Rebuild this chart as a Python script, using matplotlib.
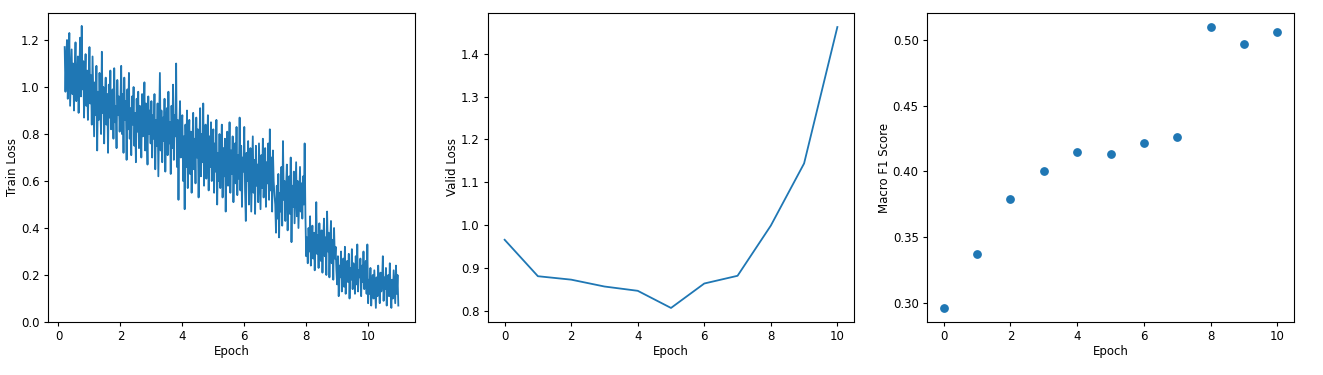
import numpy as np
import matplotlib
matplotlib.use('Agg')
import matplotlib.pyplot as plt

# train loss, one block per epoch (logging starts at epoch 0.2)
train_loss = [
    # 0.2 - 1
    1.17, 0.98, 1.12, 1.20, 0.95, 1.08, 1.23, 0.92, 1.04, 1.16, 0.97, 1.10, 0.90, 1.06, 1.19, 0.94,
    1.02, 1.13, 0.89, 1.08, 1.21, 0.96, 1.26, 0.99, 1.11, 0.87, 1.03, 1.14, 0.92, 1.07, 0.86, 1.00,
    # 1 - 2
    1.17, 0.93, 1.05, 0.84, 1.13, 0.96, 0.79, 1.02, 0.88, 1.09, 0.73, 0.98, 0.86, 1.06, 0.91, 0.80, 1.15, 0.89, 1.00, 0.76,
    0.95, 1.04, 0.84, 0.97, 0.72, 1.01, 0.87, 1.07, 0.82, 0.94, 0.99, 0.78, 1.08, 0.85, 0.92, 0.74, 1.03, 0.88, 0.96, 0.81,
    # 2 - 3
    0.93, 1.09, 0.80, 0.97, 0.72, 1.04, 0.86, 0.94, 0.69, 0.99, 0.82, 1.06, 0.78, 0.91, 0.71, 0.96, 0.84, 1.00, 0.75, 0.89,
    0.68, 0.95, 0.81, 0.98, 0.74, 0.92, 0.85, 0.70, 0.97, 0.79, 0.88, 1.02, 0.73, 0.93, 0.83, 0.67, 0.96, 0.80, 0.90, 0.76,
    # 3 - 4
    0.94, 0.70, 0.88, 0.78, 0.97, 0.65, 0.86, 0.75, 0.93, 0.62, 0.84, 1.06, 0.73, 0.90, 0.68, 0.87, 0.77, 0.95, 0.64, 0.83,
    0.91, 0.71, 0.98, 0.76, 0.85, 0.63, 0.92, 0.74, 1.01, 0.69, 0.88, 0.79, 1.10, 0.66, 0.86, 0.52, 0.81, 0.94, 0.70, 0.84,
    # 4 - 5
    0.88, 0.60, 0.79, 0.48, 0.84, 0.66, 0.90, 0.57, 0.76, 0.86, 0.63, 0.81, 0.55, 0.74, 0.89, 0.65, 0.78, 0.59, 0.87, 0.70,
    0.82, 0.53, 0.75, 0.91, 0.62, 0.80, 0.68, 0.93, 0.58, 0.77, 0.84, 0.61, 0.72, 0.88, 0.56, 0.79, 0.66, 0.85, 0.60, 0.74,
    # 5 - 6
    0.82, 0.55, 0.76, 0.64, 0.86, 0.50, 0.72, 0.60, 0.80, 0.57, 0.69, 0.84, 0.53, 0.74, 0.62, 0.78, 0.47, 0.70, 0.81, 0.58,
    0.67, 0.85, 0.55, 0.73, 0.63, 0.79, 0.51, 0.68, 0.76, 0.59, 0.83, 0.54, 0.71, 0.61, 0.87, 0.56, 0.75, 0.49, 0.70, 0.64,
    # 6 - 7
    0.83, 0.56, 0.43, 0.72, 0.60, 0.77, 0.50, 0.66, 0.74, 0.47, 0.63, 0.79, 0.55, 0.69, 0.46, 0.75, 0.58, 0.67, 0.51, 0.76,
    0.62, 0.48, 0.71, 0.57, 0.78, 0.53, 0.65, 0.74, 0.49, 0.68, 0.59, 0.76, 0.52, 0.82, 0.56, 0.70, 0.47, 0.73, 0.60, 0.54,
    # 7 - 8
    0.50, 0.38, 0.58, 0.44, 0.63, 0.36, 0.55, 0.47, 0.66, 0.41, 0.77, 0.52, 0.60, 0.43, 0.57, 0.67, 0.39, 0.54, 0.62, 0.46,
    0.70, 0.34, 0.58, 0.49, 0.64, 0.42, 0.56, 0.68, 0.45, 0.60, 0.40, 0.53, 0.66, 0.47, 0.59, 0.44, 0.62, 0.50, 0.76, 0.45,
    # 8 - 9
    0.28, 0.36, 0.25, 0.40, 0.30, 0.45, 0.24, 0.34, 0.41, 0.27, 0.38, 0.22, 0.33, 0.51, 0.29, 0.37, 0.23, 0.42, 0.31, 0.26,
    0.39, 0.21, 0.35, 0.44, 0.28, 0.36, 0.20, 0.47, 0.30, 0.38, 0.19, 0.33, 0.43, 0.25, 0.35, 0.18, 0.40, 0.27, 0.32, 0.22,
    # 9 - 10
    0.16, 0.28, 0.11, 0.24, 0.19, 0.30, 0.13, 0.22, 0.27, 0.15, 0.32, 0.12, 0.21, 0.26, 0.17, 0.29, 0.10, 0.23, 0.18, 0.31,
    0.14, 0.25, 0.20, 0.12, 0.28, 0.16, 0.33, 0.13, 0.22, 0.19, 0.27, 0.11, 0.24, 0.17, 0.30, 0.14, 0.21, 0.26, 0.12, 0.33,
    # 10 - 11
    0.08, 0.18, 0.12, 0.23, 0.07, 0.16, 0.20, 0.10, 0.22, 0.14, 0.06, 0.19, 0.11, 0.24, 0.15, 0.08, 0.21, 0.13, 0.17, 0.28,
    0.09, 0.19, 0.14, 0.23, 0.07, 0.16, 0.20, 0.11, 0.25, 0.13, 0.06, 0.18, 0.10, 0.22, 0.15, 0.08, 0.24, 0.12, 0.20, 0.07,
]
steps_per_epoch = 40
first_step = 8  # logging started at epoch 0.2

epochs = list(range(11))
valid_loss = [0.966, 0.881, 0.873, 0.857, 0.847, 0.807, 0.864, 0.882, 0.999, 1.144, 1.462]
macro_f1 = [0.296, 0.337, 0.379, 0.400, 0.415, 0.413, 0.422, 0.426, 0.510, 0.497, 0.506]

train_steps = (np.arange(len(train_loss)) + first_step) / steps_per_epoch

# the reference looks like a slightly shrunk default figure
plt.rcParams['font.size'] = 8.5
plt.rcParams['xtick.major.size'] = 3
plt.rcParams['ytick.major.size'] = 3
plt.rcParams['xtick.major.pad'] = 3
plt.rcParams['ytick.major.pad'] = 3
plt.rcParams['axes.labelpad'] = 1.5
plt.rcParams['axes.linewidth'] = 0.8
plt.rcParams['lines.linewidth'] = 1.3

fig = plt.figure(figsize=(13.23, 3.75), dpi=100)
W, H = 1323.0, 375.0
ax1 = fig.add_axes([48 / W, 53 / H, 367 / W, 309 / H])
ax2 = fig.add_axes([488 / W, 53 / H, 366 / W, 309 / H])
ax3 = fig.add_axes([927 / W, 53 / H, 367 / W, 309 / H])

ax1.plot(train_steps, train_loss)
ax1.set_xlabel('Epoch')
ax1.set_ylabel('Train Loss')
ax1.set_ylim(0, 1.315)
ax1.set_xticks([0, 2, 4, 6, 8, 10])

ax2.plot(epochs, valid_loss)
ax2.set_xlabel('Epoch')
ax2.set_ylabel('Valid Loss')

ax3.scatter(epochs, macro_f1, s=28)
ax3.set_xlabel('Epoch')
ax3.set_ylabel('Macro F1 Score')

plt.savefig('out.png', dpi=100)
